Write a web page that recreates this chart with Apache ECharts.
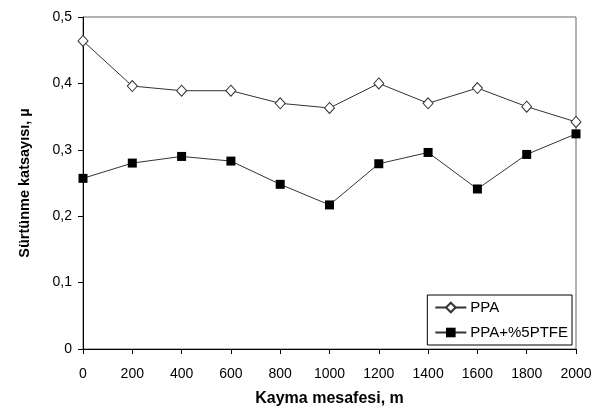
<!DOCTYPE html>
<html>
<head>
<meta charset="utf-8"/>
<title>Sürtünme katsayısı</title>
<script src="https://cdn.jsdelivr.net/npm/echarts@6/dist/echarts.min.js"></script>
<style>
    html, body { margin: 0; padding: 0; background: #fff; }
    #main { width: 605px; height: 408px; }
</style>
</head>
<body>
<div id="main"></div>
<script>
    // kayma mesafesi (m)
    var distance = [0, 200, 400, 600, 800, 1000, 1200, 1400, 1600, 1800, 2000];
    // sürtünme katsayısı
    var ppa = [0.464, 0.396, 0.389, 0.389, 0.370, 0.363, 0.400, 0.370, 0.393, 0.365, 0.342];
    var ppaPtfe = [0.257, 0.280, 0.290, 0.283, 0.248, 0.217, 0.279, 0.296, 0.241, 0.293, 0.324];

    function pairs(ys) {
        return distance.map(function (x, i) { return [x, ys[i]]; });
    }

    var chart = echarts.init(document.getElementById('main'));
    var font = 'Liberation Sans, Arial, sans-serif';

    var option = {
        animation: false,
        textStyle: { fontFamily: font },
        grid: {
            left: 83, right: 29, top: 17, bottom: 59,
            outerBoundsMode: 'none',
            show: true, borderColor: '#666', borderWidth: 1
        },
        legend: {
            orient: 'vertical',
            right: 33, bottom: 63,
            borderColor: '#000', borderWidth: 1, borderRadius: 0,
            padding: [5, 4, 5, 7],
            itemGap: 10,
            itemWidth: 31, itemHeight: 12,
            textStyle: { fontSize: 15, color: '#000', fontFamily: font, padding: [0, 0, 0, -1] },
            data: ['PPA', 'PPA+%5PTFE']
        },
        xAxis: {
            type: 'value',
            min: 0, max: 2000, interval: 200,
            name: 'Kayma mesafesi, m',
            nameLocation: 'middle', nameGap: 42,
            nameTextStyle: { fontSize: 16, fontWeight: 'bold', color: '#000' },
            axisLine: { lineStyle: { color: '#000' } },
            axisTick: { show: true, length: 5, lineStyle: { color: '#000' } },
            axisLabel: {
                fontSize: 14, color: '#000', margin: 18,
                formatter: function (v) { return String(v); }
            },
            splitLine: { show: false }
        },
        yAxis: {
            type: 'value',
            min: 0, max: 0.5, interval: 0.1,
            name: 'Sürtünme katsayısı, µ',
            nameLocation: 'middle', nameGap: 51,
            nameTextStyle: { fontSize: 14.5, fontWeight: 'bold', color: '#000' },
            axisLine: { show: true, lineStyle: { color: '#000' } },
            axisTick: { show: true, length: 5, lineStyle: { color: '#000' } },
            axisLabel: {
                fontSize: 14, color: '#000', margin: 11,
                formatter: function (v) { return v === 0 ? '0' : v.toFixed(1).replace('.', ','); }
            },
            splitLine: { show: false }
        },
        series: [
            {
                name: 'PPA',
                type: 'line',
                data: pairs(ppa),
                symbol: 'diamond', symbolSize: [10, 11],
                lineStyle: { color: '#333', width: 1 },
                itemStyle: { color: '#fff', borderColor: '#333', borderWidth: 1 }
            },
            {
                name: 'PPA+%5PTFE',
                type: 'line',
                data: pairs(ppaPtfe),
                symbol: 'rect', symbolSize: 9,
                lineStyle: { color: '#333', width: 1 },
                itemStyle: { color: '#000', borderColor: '#000', borderWidth: 0 }
            }
        ]
    };
    chart.setOption(option);
</script>
</body>
</html>
